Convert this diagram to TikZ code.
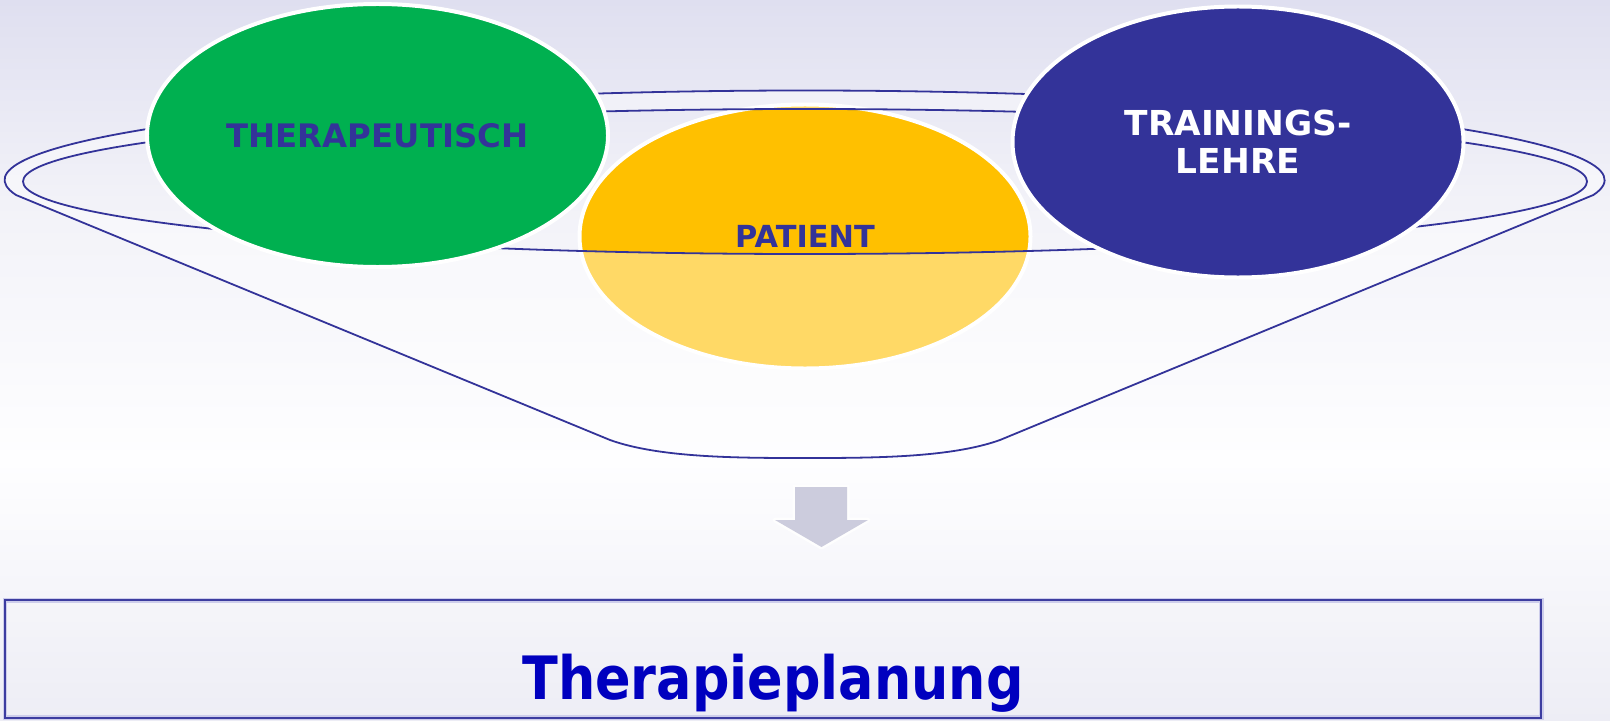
\documentclass[tikz,border=0pt]{standalone}
\usepackage{fontspec}
\setmainfont{DejaVu Sans}
\newfontfamily\titlefont[FakeStretch=0.877]{DejaVu Sans}
\usetikzlibrary{shapes.geometric}
\definecolor{navy}{RGB}{51,51,153}
\definecolor{leafgreen}{RGB}{0,176,80}
\definecolor{amber}{RGB}{255,192,0}
\definecolor{titleblue}{RGB}{0,0,191}
\definecolor{arrowgrey}{RGB}{204,204,221}
\definecolor{bgtop}{RGB}{223,223,240}
\definecolor{bgmid}{RGB}{242,242,248}
\definecolor{bgwhite}{RGB}{254,254,255}
\definecolor{bgbottom}{RGB}{237,237,245}
\definecolor{boxline}{RGB}{60,60,160}
\definecolor{boxglow}{RGB}{205,205,235}
\begin{document}
\begin{tikzpicture}[x=1bp,y=-1bp,
  blob/.style={ellipse, draw=white, line width=4pt, inner sep=0pt},
  rim/.style={draw=navy, line width=1.8pt},
]
\useasboundingbox (0,0) rectangle (1610,721);

% soft vertical background
\shade[top color=bgtop, bottom color=bgmid] (0,0) rectangle (1610,200.5);
\shade[top color=bgmid, bottom color=bgwhite] (0,200) rectangle (1610,460.5);
\shade[top color=bgwhite, bottom color=bgbottom] (0,460) rectangle (1610,721);

% patient, sitting inside the dish
\node[blob, fill=amber, minimum width=451bp, minimum height=264bp,
      text=navy, font=\fontsize{30.5}{36}\selectfont\bfseries]
      (pat) at (805,236.5) {PATIENT};

% dish: translucent rim and front wall
\fill[white, fill opacity=0.4, even odd rule]
  (16,195) arc[start angle=189.65, end angle=-9.65, x radius=800bp, y radius=89.5bp]
  -- (1000,440) .. controls (950,458) and (870,458) .. (805,458)
  .. controls (740,458) and (660,458) .. (610,440) -- cycle
  (805,181.5) ellipse [x radius=782bp, y radius=72.5bp];
\draw[rim, line join=round]
  (16,195) arc[start angle=189.65, end angle=-9.65, x radius=800bp, y radius=89.5bp]
  -- (1000,440) .. controls (950,458) and (870,458) .. (805,458)
  .. controls (740,458) and (660,458) .. (610,440) -- cycle;
\draw[rim] (805,181.5) ellipse [x radius=782bp, y radius=72.5bp];

% the two disciplines resting on the rim
\node[blob, fill=leafgreen, minimum width=461bp, minimum height=263bp,
      text=navy, font=\fontsize{32.5}{38}\selectfont\bfseries]
      (ther) at (377.5,135.5) {THERAPEUTISCH};
\node[blob, fill=navy, minimum width=451bp, minimum height=271bp,
      text=white, align=center, font=\fontsize{34.5}{38.3}\selectfont\bfseries]
      (train) at (1238,142) {TRAININGS-\\LEHRE};

% arrow down to the result
\fill[arrowgrey, preaction={draw=white, line width=5pt, line join=round, opacity=0.85}]
  (795,487) -- (847,487) -- (847,520) -- (868,520) -- (821.5,547)
  -- (775,520) -- (795,520) -- cycle;

% result box
\node[draw=boxline, line width=2pt, preaction={draw=boxglow, line width=5pt},
      minimum width=1536bp, minimum height=117.5bp, inner sep=0pt]
      (plan) at (773,659) {};
\node[anchor=base, inner sep=0pt, text=titleblue,
      font=\titlefont\fontsize{60}{64}\selectfont\bfseries]
      (plantext) at (773,699.5) {Therapieplanung};
\end{tikzpicture}
\end{document}
